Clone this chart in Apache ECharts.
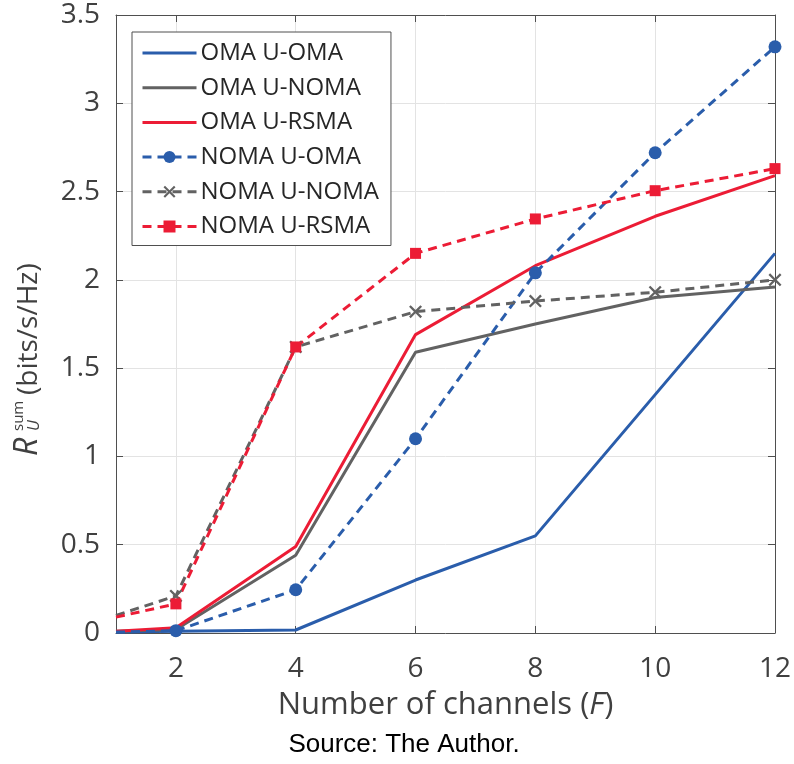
<!DOCTYPE html>
<html>
<head>
<meta charset="utf-8">
<title>Sum rate vs number of channels</title>
<script src="https://cdn.jsdelivr.net/npm/echarts@6/dist/echarts.min.js"></script>
<style>
  html, body { margin: 0; padding: 0; background: #ffffff; }
  #chart { width: 794px; height: 764px; }
</style>
</head>
<body>
<div id="chart"></div>
<script>
// Number of channels F
const channels = [1, 2, 4, 6, 8, 10, 12];

// Sum rate R_U^sum (bits/s/Hz) for each access scheme
const omaUOma   = [0.005, 0.01, 0.017, 0.30, 0.55, 1.35, 2.15];
const omaUNoma  = [0.01, 0.02, 0.44, 1.59, 1.75, 1.90, 1.96];
const omaURsma  = [0.01, 0.03, 0.49, 1.69, 2.08, 2.36, 2.59];
const nomaUOma  = [0.005, 0.013, 0.245, 1.10, 2.04, 2.72, 3.32];
const nomaUNoma = [0.10, 0.21, 1.62, 1.82, 1.88, 1.93, 2.00];
const nomaURsma = [0.09, 0.165, 1.62, 2.15, 2.345, 2.505, 2.63];

const seriesNames = ['OMA U-OMA', 'OMA U-NOMA', 'OMA U-RSMA', 'NOMA U-OMA', 'NOMA U-NOMA', 'NOMA U-RSMA'];
const xTicks = [2, 4, 6, 8, 10, 12];

const BLUE = '#2a5dab';
const GRAY = '#626262';
const RED = '#ec1c35';
const FONT = '"Open Sans", "DejaVu Sans", sans-serif';
const CROSS = 'path://M0,2.5 L2.5,0 L10,7.5 L17.5,0 L20,2.5 L12.5,10 L20,17.5 L17.5,20 L10,12.5 L2.5,20 L0,17.5 L7.5,10 Z';

// pair channels with values; the first point (F = 1) carries no marker
function pairs(values, marked) {
  return channels.map((f, i) => {
    if (marked && i === 0) return { value: [f, values[i]], symbol: 'none' };
    return [f, values[i]];
  });
}

function solid(name, values, color) {
  return {
    name, type: 'line', data: pairs(values, false),
    symbol: 'none', clip: false,
    lineStyle: { color, width: 3 },
    itemStyle: { color },
    emphasis: { disabled: true }
  };
}

function dashed(name, values, color, symbol, size) {
  return {
    name, type: 'line', data: pairs(values, true),
    symbol, symbolSize: size, showSymbol: true, clip: false,
    lineStyle: { color, width: 3, type: [9, 6] },
    itemStyle: { color, borderWidth: 0 },
    emphasis: { disabled: true }
  };
}

// solid curves show only their line in the legend
const legendItems = seriesNames.map((name, i) =>
  i < 3 ? { name, itemStyle: { opacity: 0 } } : { name });

const chart = echarts.init(document.getElementById('chart'), null, { renderer: 'canvas' });

const frameColor = '#4f4f4f';

chart.setOption({
  animation: false,
  backgroundColor: '#ffffff',
  grid: { left: 116, right: 17, top: 15, bottom: 131, containLabel: false },
  legend: {
    orient: 'vertical',
    left: 132, top: 32,
    padding: [9, 12, 7, 9],
    itemWidth: 54, itemHeight: 15, itemGap: 10.7,
    backgroundColor: '#ffffff',
    borderColor: '#4f4f4f', borderWidth: 1,
    lineStyle: { width: 3 },
    textStyle: { fontFamily: FONT, fontSize: 24, color: '#262626', padding: [0, 0, 0, -1] },
    data: legendItems
  },
  xAxis: [
    {
      type: 'value', min: 1, max: 12, position: 'bottom',
      name: 'Number of channels ({i|F})', nameLocation: 'middle', nameGap: 57,
      nameTextStyle: {
        fontFamily: FONT, fontSize: 31, color: '#404040',
        rich: { i: { fontFamily: FONT, fontSize: 31, fontStyle: 'italic', color: '#404040' } }
      },
      axisLine: { show: true, onZero: false, lineStyle: { color: frameColor, width: 1 } },
      axisTick: { show: true, inside: true, length: 7, customValues: xTicks, lineStyle: { color: frameColor } },
      axisLabel: { customValues: xTicks, margin: 22, fontFamily: FONT, fontSize: 28, color: '#404040' },
      splitLine: { show: true, lineStyle: { color: '#e3e3e3', width: 1 } }
    },
    {
      type: 'value', min: 1, max: 12, position: 'top',
      axisLine: { show: true, onZero: false, lineStyle: { color: frameColor, width: 1 } },
      axisTick: { show: true, inside: true, length: 7, customValues: xTicks, lineStyle: { color: frameColor } },
      axisLabel: { show: false },
      splitLine: { show: false }
    }
  ],
  yAxis: [
    {
      type: 'value', min: 0, max: 3.5, interval: 0.5, position: 'left',
      axisLine: { show: true, onZero: false, lineStyle: { color: frameColor, width: 1 } },
      axisTick: { show: true, inside: true, length: 7, lineStyle: { color: frameColor } },
      axisLabel: { margin: 16, fontFamily: FONT, fontSize: 28, color: '#404040' },
      splitLine: { show: true, lineStyle: { color: '#e3e3e3', width: 1 } }
    },
    {
      type: 'value', min: 0, max: 3.5, interval: 0.5, position: 'right',
      axisLine: { show: true, onZero: false, lineStyle: { color: frameColor, width: 1 } },
      axisTick: { show: true, inside: true, length: 7, lineStyle: { color: frameColor } },
      axisLabel: { show: false },
      splitLine: { show: false }
    }
  ],
  series: [
    solid(seriesNames[0], omaUOma, BLUE),
    solid(seriesNames[1], omaUNoma, GRAY),
    solid(seriesNames[2], omaURsma, RED),
    dashed(seriesNames[3], nomaUOma, BLUE, 'circle', 13),
    dashed(seriesNames[4], nomaUNoma, GRAY, CROSS, 13),
    dashed(seriesNames[5], nomaURsma, RED, 'rect', 11)
  ],
  graphic: [
    {
      // y-axis title: R_U^sum (bits/s/Hz), reading bottom to top
      type: 'group', x: 40, y: 456, rotation: Math.PI / 2,
      children: [
        { type: 'text', x: 0, y: -12, style: { text: 'R', font: 'italic 32px ' + FONT, fill: '#404040', verticalAlign: 'middle', align: 'left' } },
        { type: 'text', x: 25, y: -21, style: { text: 'sum', font: '15px ' + FONT, fill: '#404040', verticalAlign: 'middle', align: 'left' } },
        { type: 'text', x: 25, y: -6, style: { text: 'U', font: 'italic 16px ' + FONT, fill: '#404040', verticalAlign: 'middle', align: 'left' } },
        { type: 'text', x: 61, y: -11, style: { text: '(bits/s/Hz)', font: '28px ' + FONT, fill: '#404040', verticalAlign: 'middle', align: 'left' } }
      ]
    },
    {
      type: 'text', x: 404, y: 745,
      style: { text: 'Source: The Author.', font: '26px "Liberation Sans", Arial, sans-serif', fill: '#000000', align: 'center', verticalAlign: 'middle' }
    }
  ]
});
</script>
</body>
</html>
